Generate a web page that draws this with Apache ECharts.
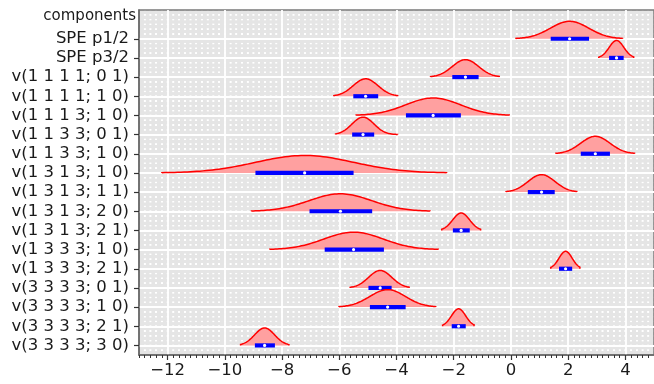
<!DOCTYPE html>
<html>
<head>
<meta charset="utf-8">
<script src="https://cdn.jsdelivr.net/npm/echarts@6/dist/echarts.min.js"></script>
<style>
html,body{margin:0;padding:0;background:#fff;}
#chart{width:654px;height:384px;}
</style>
</head>
<body>
<div id="chart"></div>
<script>
// ---- data (top row first) ----
const rowLabels = [
  'SPE p1/2', 'SPE p3/2',
  'v(1 1 1 1; 0 1)', 'v(1 1 1 1; 1 0)', 'v(1 1 1 3; 1 0)',
  'v(1 1 3 3; 0 1)', 'v(1 1 3 3; 1 0)',
  'v(1 3 1 3; 1 0)', 'v(1 3 1 3; 1 1)', 'v(1 3 1 3; 2 0)', 'v(1 3 1 3; 2 1)',
  'v(1 3 3 3; 1 0)', 'v(1 3 3 3; 2 1)',
  'v(3 3 3 3; 0 1)', 'v(3 3 3 3; 1 0)', 'v(3 3 3 3; 2 1)', 'v(3 3 3 3; 3 0)'
];
const medians   = [2.05, 3.69, -1.59, -5.08, -2.72, -5.17, 2.95, -7.21, 1.07, -5.96, -1.74, -5.50, 1.91, -4.57, -4.31, -1.83, -8.61];
const barLow    = [1.39, 3.43, -2.05, -5.51, -3.67, -5.55, 2.44, -8.93, 0.59, -7.04, -2.03, -6.51, 1.68, -4.98, -4.93, -2.07, -8.95];
const barHigh   = [2.73, 3.94, -1.13, -4.64, -1.75, -4.78, 3.46, -5.50, 1.53, -4.85, -1.44, -4.44, 2.14, -4.17, -3.68, -1.58, -8.25];
const curveLow  = [0.17, 3.07, -2.81, -6.19, -5.41, -6.13, 1.57, -12.20, -0.17, -9.07, -2.42, -8.43, 1.39, -5.62, -6.01, -2.39, -9.45];
const curveHigh = [3.90, 4.29, -0.41, -3.96, -0.06, -3.96, 4.32, -2.25, 2.30, -2.83, -1.06, -2.54, 2.41, -3.56, -2.63, -1.29, -7.76];
const xTicks = [-12, -10, -8, -6, -4, -2, 0, 2, 4];
const yTitle = 'components';

const FONT = 'DejaVu Sans';
const nRows = rowLabels.length;
const rowPos = rowLabels.map((_, i) => nRows - 1 - i);   // top row highest on the axis
const posToLabel = {};
rowPos.forEach((p, i) => { posToLabel[p] = rowLabels[i]; });
const peakH = 0.91;
const Y_MIN = -0.5, Y_MAX = nRows + 0.5, X_MIN = -13, X_MAX = 5;
const G = {left: 139, right: 0, top: 10, bottom: 29, W: 654, H: 384};

// dotted minor grid as a repeating background pattern (every 0.2 x-units, every quarter row)
const gw = G.W - G.left - G.right, gh = G.H - G.top - G.bottom;
const stepX = gw / ((X_MAX - X_MIN) / 0.2), stepY = gh / ((Y_MAX - Y_MIN) * 4);
const pc = document.createElement('canvas');
pc.width = 20; pc.height = 20;
const pctx = pc.getContext('2d');
pctx.fillStyle = '#e5e5e5'; pctx.fillRect(0, 0, 20, 20);
pctx.fillStyle = '#ffffff'; pctx.fillRect(6.5, 6.5, 7, 7);
const bgPattern = {
  image: pc, repeat: 'repeat',
  scaleX: stepX / 20, scaleY: stepY / 20,
  x: G.left - 10 * stepX / 20, y: G.top - 10 * stepY / 20
};

const chart = echarts.init(document.getElementById('chart'), null, {renderer: 'canvas'});
const minus = v => String(v).replace('-', '\u2212');

chart.setOption({
  animation: false,
  backgroundColor: '#ffffff',
  grid: {
    left: G.left, right: G.right, top: G.top, bottom: G.bottom,
    show: true, backgroundColor: bgPattern, borderColor: '#7a7a7a', borderWidth: 1.5
  },
  graphic: [{
    type: 'text', right: 654 - 136, top: 9,
    style: {text: yTitle, font: '15px "DejaVu Sans"', fill: '#1a1a1a', textAlign: 'right'}
  }],
  xAxis: [{
    type: 'value', min: X_MIN, max: X_MAX, interval: 1, position: 'bottom',
    axisLine: {show: true, onZero: false, lineStyle: {color: '#666', width: 1.5}},
    axisTick: {show: true, customValues: xTicks, length: 5, lineStyle: {color: '#333', width: 1.2}},
    axisLabel: {customValues: xTicks, formatter: minus, fontFamily: FONT, fontSize: 16.5, color: '#1a1a1a', margin: 7},
    splitLine: {show: true, lineStyle: {color: '#ffffff', width: 1.8}}
  }, {
    type: 'value', min: X_MIN, max: X_MAX, interval: 0.2, position: 'bottom',
    axisLine: {show: false, onZero: false},
    axisTick: {show: true, length: 3, lineStyle: {color: '#333', width: 1}},
    axisLabel: {show: false},
    splitLine: {show: false}
  }],
  yAxis: [{
    type: 'value', min: Y_MIN, max: Y_MAX, position: 'left',
    axisLine: {show: true, onZero: false, lineStyle: {color: '#666', width: 1.5}},
    axisTick: {show: true, customValues: rowPos, length: 5, lineStyle: {color: '#333', width: 1.2}},
    axisLabel: {customValues: rowPos, formatter: v => posToLabel[Math.round(v)] || '', fontFamily: FONT, fontSize: 16.5, color: '#1a1a1a', margin: 10},
    splitLine: {show: true, lineStyle: {color: '#ffffff', width: 1.8}}
  }],
  series: [{
    type: 'custom',
    xAxisIndex: 0, yAxisIndex: 0,
    clip: true,
    data: rowLabels.map((_, i) => [medians[i], rowPos[i], i]),
    renderItem: function (params, api) {
      const i = api.value(2);
      const yb = api.value(1);
      const m = medians[i];
      const s = (barHigh[i] - barLow[i]) / 2;
      const lo = curveLow[i], hi = curveHigh[i];
      const N = 90;
      const pts = [];
      for (let k = 0; k <= N; k++) {
        const x = lo + (hi - lo) * k / N;
        const d = Math.exp(-0.5 * Math.pow((x - m) / s, 2));
        pts.push(api.coord([x, yb + peakH * d]));
      }
      const b0 = api.coord([lo, yb]);
      const b1 = api.coord([hi, yb]);
      const poly = [b0].concat(pts, [b1]);
      const pL = api.coord([barLow[i], yb]);
      const pH = api.coord([barHigh[i], yb]);
      const pM = api.coord([m, yb]);
      return {
        type: 'group',
        children: [
          {type: 'polygon', shape: {points: poly}, style: {fill: '#ffa0a0', stroke: null}},
          {type: 'polyline', shape: {points: poly}, style: {stroke: '#ff0000', lineWidth: 1.5, fill: null}},
          {type: 'rect', shape: {x: pL[0], y: pL[1] - 2.1, width: pH[0] - pL[0], height: 4.2}, style: {fill: '#0000ff'}},
          {type: 'circle', shape: {cx: pM[0], cy: pM[1], r: 1.6}, style: {fill: '#ffffff'}}
        ]
      };
    }
  }]
});
</script>
</body>
</html>
